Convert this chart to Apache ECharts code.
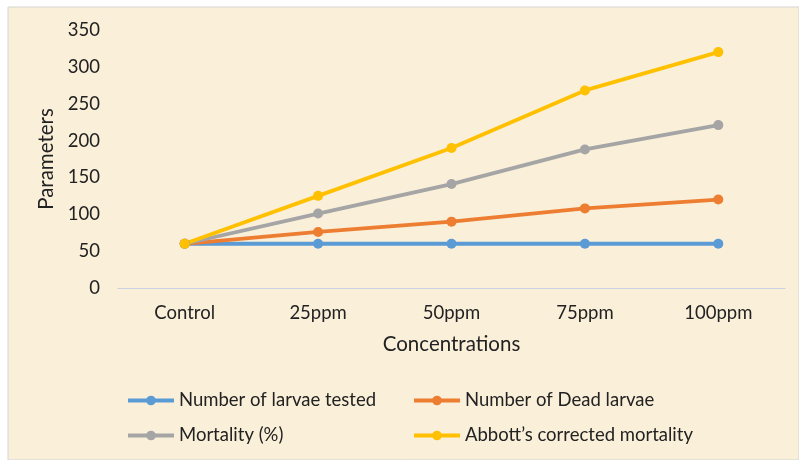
<!DOCTYPE html>
<html>
<head>
<meta charset="utf-8">
<script src="https://cdn.jsdelivr.net/npm/echarts@6/dist/echarts.min.js"></script>
<style>
  html, body { margin: 0; padding: 0; background: #fff; }
  #chart { width: 799px; height: 460px; }
</style>
</head>
<body>
<div id="chart"></div>
<script>
// concentrations on the x axis
const categories = ['Control', '25ppm', '50ppm', '75ppm', '100ppm']

// values
const larvaeTested = [60, 60, 60, 60, 60]
const deadLarvae = [60, 76, 90, 108, 120]
const mortality = [60, 101, 141, 188, 221]
const abbottCorrected = [60, 125, 190, 268, 320]

const seriesNames = [
  'Number of larvae tested',
  'Number of Dead larvae',
  'Mortality (%)',
  'Abbott\u2019s corrected mortality'
]
const colors = ['#5b9bd5', '#ed7d31', '#a5a5a5', '#ffc000']

const font = 'Lato, "Open Sans", sans-serif'

let myChart = echarts.init(document.getElementById('chart'))

function makeSeries(name, data, color) {
  return {
    name: name,
    type: 'line',
    data: data,
    symbol: 'circle',
    symbolSize: 10,
    lineStyle: { width: 3.8, color: color },
    itemStyle: { color: color },
    emphasis: { disabled: true }
  }
}

function makeLegend(left, names) {
  return {
    orient: 'vertical',
    left: left,
    top: 391,
    padding: 0,
    itemWidth: 46,
    itemHeight: 12,
    itemGap: 16,
    lineStyle: { width: 4 },
    data: names,
    textStyle: { fontFamily: font, fontSize: 18.5, color: '#222' }
  }
}

let option = {
  animation: false,
  color: colors,
  graphic: [
    {
      type: 'rect',
      z: -10,
      shape: { x: 8, y: 7, width: 791, height: 453 },
      style: { fill: '#faefd9', stroke: '#d4d4d4', lineWidth: 1 }
    }
  ],
  grid: {
    left: 118,
    right: 14,
    top: 30,
    bottom: 172
  },
  legend: [
    makeLegend(126, [seriesNames[0], seriesNames[2]]),
    makeLegend(412, [seriesNames[1], seriesNames[3]])
  ],
  xAxis: {
    type: 'category',
    data: categories,
    name: 'Concentrations',
    nameLocation: 'middle',
    nameGap: 46,
    nameTextStyle: { fontFamily: font, fontSize: 20.5, color: '#222' },
    axisLine: { lineStyle: { color: '#c9d3e3', width: 1 } },
    axisTick: { show: false },
    axisLabel: { fontFamily: font, fontSize: 18.5, color: '#222', margin: 16 }
  },
  yAxis: {
    type: 'value',
    min: 0,
    max: 350,
    interval: 50,
    name: 'Parameters',
    nameLocation: 'middle',
    nameGap: 58,
    nameTextStyle: { fontFamily: font, fontSize: 20.5, color: '#222' },
    axisLine: { show: false },
    axisTick: { show: false },
    splitLine: { show: false },
    axisLabel: { fontFamily: font, fontSize: 18.5, color: '#222', margin: 18 }
  },
  series: [
    makeSeries(seriesNames[0], larvaeTested, colors[0]),
    makeSeries(seriesNames[1], deadLarvae, colors[1]),
    makeSeries(seriesNames[2], mortality, colors[2]),
    makeSeries(seriesNames[3], abbottCorrected, colors[3])
  ]
}

myChart.setOption(option)
</script>
</body>
</html>
